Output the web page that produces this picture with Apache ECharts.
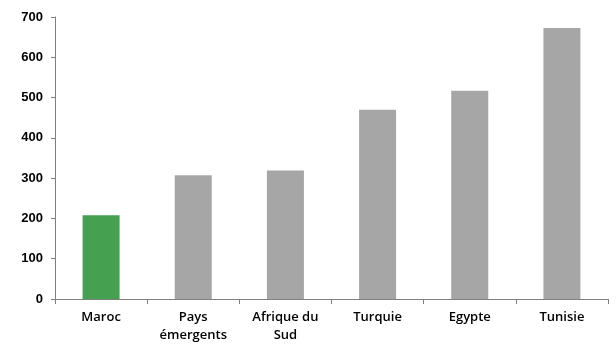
<!DOCTYPE html>
<html>
<head>
<meta charset="utf-8">
<script src="https://cdn.jsdelivr.net/npm/echarts@6/dist/echarts.min.js"></script>
<style>
  html, body { margin: 0; padding: 0; background: #fff; }
  #chart { width: 616px; height: 344px; }
</style>
</head>
<body>
<div id="chart"></div>
<script>
// Country categories and their values
const categories = ['Maroc', 'Pays\némergents', 'Afrique du\nSud', 'Turquie', 'Egypte', 'Tunisie'];
const values = [208, 307, 319, 470, 517, 673];
const barColors = ['#45A04F', '#A6A6A6', '#A6A6A6', '#A6A6A6', '#A6A6A6', '#A6A6A6'];
const yTicks = { min: 0, max: 700, interval: 100 };

const chart = echarts.init(document.getElementById('chart'), null, { renderer: 'canvas' });

chart.setOption({
  animation: false,
  backgroundColor: '#ffffff',
  grid: { left: 55, right: 8, top: 17, bottom: 44, containLabel: false },
  xAxis: {
    type: 'category',
    data: categories,
    axisLine: { lineStyle: { color: '#7f7f7f', width: 1 } },
    axisTick: { show: true, alignWithLabel: false, length: 5, lineStyle: { color: '#7f7f7f' } },
    axisLabel: {
      color: '#000000',
      fontFamily: 'Open Sans',
      fontSize: 13,
      fontWeight: 600,
      lineHeight: 18,
      margin: 9,
      interval: 0
    }
  },
  yAxis: {
    type: 'value',
    min: yTicks.min,
    max: yTicks.max,
    interval: yTicks.interval,
    splitLine: { show: false },
    axisLine: { show: true, lineStyle: { color: '#7f7f7f', width: 1 } },
    axisTick: { show: true, length: 4, lineStyle: { color: '#7f7f7f' } },
    axisLabel: {
      color: '#000000',
      fontFamily: 'Liberation Sans',
      fontSize: 13,
      fontWeight: 'bold',
      margin: 12
    }
  },
  series: [{
    type: 'bar',
    barWidth: 37,
    data: values.map((v, i) => ({ value: v, itemStyle: { color: barColors[i] } }))
  }]
});
</script>
</body>
</html>
